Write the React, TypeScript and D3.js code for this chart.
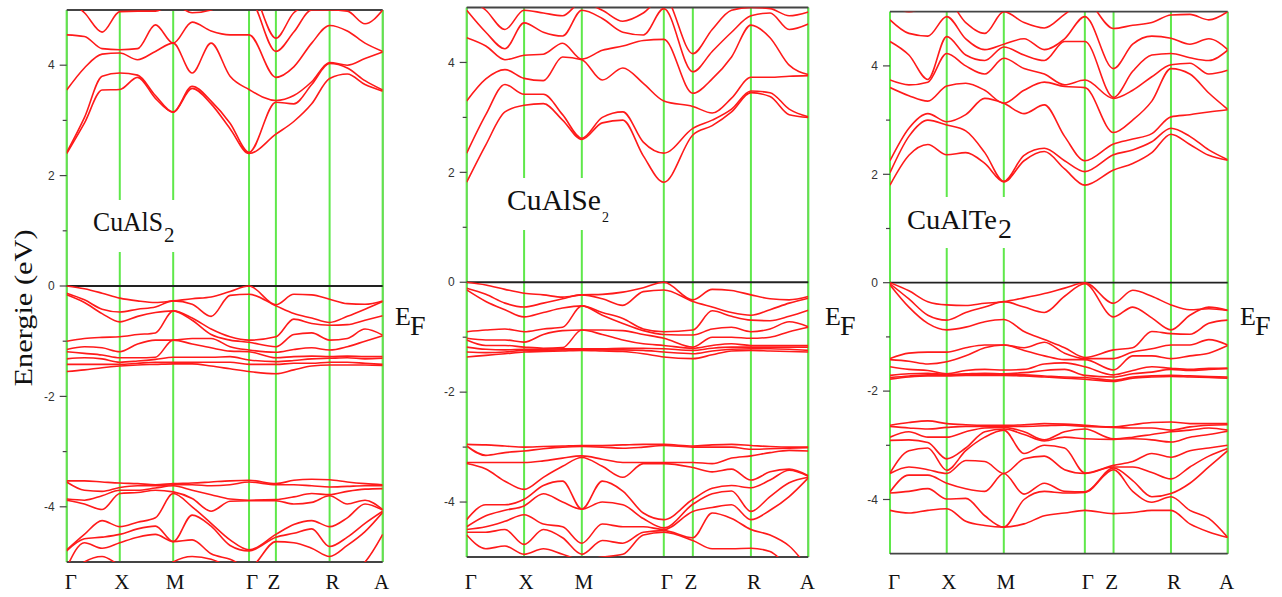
import * as d3 from "d3";
import { useEffect, useRef } from "react";

// high-symmetry path
const kLabels = ["Γ", "X", "M", "Γ", "Z", "R", "A"];
const kTicks = [0, 0.168, 0.337, 0.577, 0.662, 0.832, 1];
const kSteps = [3, 3, 4, 1, 3, 3]; // samples per segment
const majorTicks = [-4, -2, 0, 2, 4];
const minorTicks = [-3, -1, 1, 3];

// CuAlS2 bands (eV), one row per band, read at the k grid points
const s2Cond = [
  [2.40, 2.95, 3.55, 3.56, 3.78, 3.40, 3.15, 3.58, 3.30, 2.85, 2.40, 2.75, 2.98, 3.30, 3.76, 3.84, 3.65, 3.53],
  [2.42, 3.05, 3.80, 3.86, 3.82, 3.45, 3.15, 3.62, 3.35, 2.95, 2.42, 3.33, 3.30, 3.65, 4.03, 3.95, 3.72, 3.55],
  [3.55, 3.95, 4.20, 4.22, 4.10, 4.25, 4.40, 3.86, 4.40, 3.80, 3.56, 3.36, 3.45, 3.70, 4.05, 4.00, 4.12, 4.24],
  [4.55, 4.52, 4.30, 4.28, 4.30, 4.73, 4.40, 4.78, 4.62, 4.55, 4.55, 3.78, 3.97, 4.40, 4.72, 4.62, 4.40, 4.25],
  [5.20, 4.95, 4.60, 4.97, 4.98, 4.98, 5.10, 4.95, 5.00, 5.20, 5.20, 4.25, 4.60, 5.00, 5.00, 4.98, 4.75, 5.00],
  [5.40, 5.30, 5.10, 5.20, 5.10, 5.10, 5.20, 5.10, 5.20, 5.40, 5.40, 4.49, 4.95, 5.10, 5.20, 5.20, 5.10, 5.20],
];
const s2Val = [
  [0, -0.05, -0.13, -0.22, -0.27, -0.30, -0.27, -0.23, -0.20, -0.10, 0, -0.34, -0.15, -0.16, -0.24, -0.32, -0.33, -0.27],
  [-0.13, -0.25, -0.42, -0.47, -0.42, -0.38, -0.27, -0.33, -0.55, -0.17, -0.15, -0.36, -0.50, -0.58, -0.66, -0.55, -0.42, -0.28],
  [-0.16, -0.30, -0.50, -0.65, -0.55, -0.48, -0.45, -0.58, -0.78, -0.92, -0.98, -0.92, -0.60, -0.68, -0.71, -0.70, -0.62, -0.54],
  [-1.00, -0.95, -0.93, -0.92, -0.88, -0.85, -0.45, -0.62, -0.88, -0.98, -1.02, -1.10, -0.88, -0.85, -0.98, -0.95, -0.78, -0.89],
  [-1.15, -1.10, -1.12, -1.19, -1.05, -0.98, -0.98, -0.95, -0.95, -1.10, -1.16, -1.20, -1.15, -1.12, -1.16, -1.10, -1.00, -0.90],
  [-1.19, -1.22, -1.25, -1.30, -1.30, -1.29, -0.98, -1.05, -1.12, -1.18, -1.19, -1.30, -1.28, -1.27, -1.28, -1.27, -1.28, -1.28],
  [-1.32, -1.30, -1.32, -1.38, -1.36, -1.33, -1.29, -1.29, -1.29, -1.28, -1.34, -1.37, -1.35, -1.32, -1.31, -1.30, -1.32, -1.31],
  [-1.42, -1.42, -1.42, -1.42, -1.40, -1.38, -1.38, -1.38, -1.38, -1.38, -1.42, -1.42, -1.40, -1.40, -1.38, -1.38, -1.40, -1.42],
  [-1.55, -1.52, -1.48, -1.45, -1.43, -1.42, -1.41, -1.41, -1.45, -1.50, -1.55, -1.59, -1.52, -1.45, -1.43, -1.43, -1.43, -1.44],
];
const s2Low = [
  [-3.53, -3.53, -3.55, -3.57, -3.58, -3.60, -3.58, -3.57, -3.55, -3.53, -3.52, -3.58, -3.52, -3.50, -3.51, -3.55, -3.58, -3.60],
  [-3.55, -3.70, -3.72, -3.65, -3.62, -3.62, -3.60, -3.60, -3.62, -3.60, -3.55, -3.60, -3.60, -3.62, -3.64, -3.63, -3.62, -3.62],
  [-3.86, -3.88, -3.80, -3.70, -3.70, -3.66, -3.62, -3.70, -3.78, -3.86, -3.88, -3.87, -3.82, -3.76, -3.78, -3.72, -3.68, -3.67],
  [-3.88, -3.95, -4.05, -3.76, -3.74, -3.70, -3.73, -3.85, -4.08, -3.90, -3.89, -3.89, -3.95, -3.92, -3.80, -3.95, -3.88, -4.05],
  [-4.78, -4.50, -4.25, -4.36, -4.28, -4.20, -3.76, -4.00, -4.30, -4.60, -4.78, -4.50, -4.32, -4.25, -4.36, -4.20, -3.95, -4.06],
  [-4.80, -4.58, -4.55, -4.50, -4.40, -4.35, -4.63, -4.15, -4.35, -4.70, -4.80, -4.55, -4.48, -4.40, -4.72, -4.55, -4.30, -4.08],
  [-5.10, -4.65, -4.75, -4.65, -4.55, -4.50, -4.63, -4.60, -4.85, -4.95, -5.10, -4.63, -4.65, -4.75, -4.90, -4.70, -4.45, -4.10],
  [-5.30, -5.00, -4.90, -5.05, -5.10, -5.30, -5.00, -4.90, -4.95, -5.10, -5.30, -5.05, -5.20, -5.30, -5.40, -5.20, -5.00, -4.50],
];

// CuAlSe2 bands
const se2Cond = [
  [1.82, 2.50, 3.10, 3.22, 3.25, 2.95, 2.60, 2.90, 2.95, 2.30, 1.82, 2.68, 2.85, 3.10, 3.45, 3.38, 3.05, 3.00],
  [2.35, 3.05, 3.60, 3.42, 3.42, 3.05, 2.62, 3.00, 3.10, 2.55, 2.35, 2.80, 2.95, 3.15, 3.48, 3.45, 3.15, 3.01],
  [3.30, 3.70, 3.87, 3.71, 3.67, 4.10, 4.05, 3.68, 3.90, 3.62, 3.30, 3.20, 3.08, 3.35, 3.73, 3.73, 3.75, 3.76],
  [4.45, 4.30, 4.05, 4.13, 4.15, 4.35, 4.06, 4.22, 4.30, 4.40, 4.42, 3.44, 3.70, 4.10, 4.68, 4.45, 3.95, 3.78],
  [4.95, 4.55, 4.25, 4.72, 4.55, 4.48, 4.95, 4.80, 4.55, 4.50, 4.98, 3.83, 4.20, 4.55, 4.85, 4.90, 4.60, 4.70],
  [5.20, 4.95, 4.60, 4.95, 4.90, 4.85, 5.10, 4.95, 4.75, 4.90, 5.20, 4.16, 4.60, 4.95, 5.00, 4.98, 4.85, 4.92],
];
const se2Val = [
  [0, -0.05, -0.13, -0.20, -0.23, -0.27, -0.23, -0.22, -0.18, -0.10, 0, -0.32, -0.13, -0.15, -0.23, -0.30, -0.32, -0.26],
  [-0.11, -0.22, -0.38, -0.45, -0.38, -0.30, -0.23, -0.30, -0.42, -0.17, -0.14, -0.35, -0.45, -0.55, -0.60, -0.50, -0.38, -0.29],
  [-0.14, -0.35, -0.50, -0.63, -0.55, -0.47, -0.43, -0.55, -0.66, -0.85, -0.90, -0.87, -0.52, -0.62, -0.69, -0.70, -0.62, -0.51],
  [-0.90, -0.87, -0.85, -0.90, -0.85, -0.82, -0.43, -0.60, -0.75, -0.88, -0.95, -0.96, -0.85, -0.82, -0.90, -0.85, -0.72, -0.81],
  [-1.02, -1.05, -1.05, -1.09, -0.95, -0.88, -0.87, -0.87, -0.88, -0.95, -1.02, -1.18, -1.00, -1.00, -1.02, -1.00, -0.90, -0.82],
  [-1.05, -1.15, -1.15, -1.18, -1.20, -1.19, -0.87, -0.95, -1.05, -1.12, -1.15, -1.20, -1.15, -1.12, -1.15, -1.15, -1.15, -1.15],
  [-1.18, -1.22, -1.23, -1.22, -1.22, -1.21, -1.21, -1.21, -1.20, -1.20, -1.21, -1.24, -1.20, -1.18, -1.18, -1.18, -1.18, -1.18],
  [-1.27, -1.28, -1.27, -1.24, -1.24, -1.23, -1.23, -1.23, -1.23, -1.24, -1.27, -1.30, -1.25, -1.22, -1.21, -1.21, -1.22, -1.24],
  [-1.36, -1.33, -1.30, -1.27, -1.26, -1.25, -1.24, -1.25, -1.26, -1.30, -1.36, -1.39, -1.32, -1.25, -1.24, -1.25, -1.26, -1.27],
];
const se2Low = [
  [-2.95, -2.96, -2.98, -3.00, -2.99, -2.98, -2.97, -2.97, -2.96, -2.95, -2.95, -2.98, -2.96, -2.95, -2.97, -2.99, -3.00, -3.00],
  [-2.98, -3.15, -3.10, -3.07, -3.03, -3.00, -2.99, -3.00, -3.02, -3.00, -2.97, -3.00, -3.00, -3.00, -3.04, -3.03, -3.02, -3.01],
  [-3.28, -3.28, -3.28, -3.28, -3.25, -3.20, -3.16, -3.22, -3.28, -3.28, -3.28, -3.28, -3.30, -3.20, -3.16, -3.10, -3.06, -3.07],
  [-3.30, -3.40, -3.62, -3.77, -3.55, -3.35, -3.19, -3.35, -3.55, -3.30, -3.30, -3.37, -3.45, -3.40, -3.60, -3.45, -3.40, -3.52],
  [-4.32, -4.05, -4.05, -3.95, -3.70, -3.62, -4.13, -3.62, -3.80, -4.20, -4.32, -3.95, -3.75, -3.70, -3.74, -3.60, -3.42, -3.53],
  [-4.45, -4.25, -4.15, -4.07, -3.85, -4.00, -4.13, -4.00, -4.05, -4.30, -4.47, -4.04, -3.85, -3.80, -4.17, -3.90, -3.65, -3.55],
  [-4.50, -4.45, -4.35, -4.23, -4.40, -4.45, -4.75, -4.40, -4.45, -4.45, -4.50, -4.17, -4.10, -4.05, -4.32, -4.15, -3.90, -3.56],
  [-4.55, -4.55, -4.50, -4.77, -4.50, -4.65, -4.95, -4.70, -4.75, -4.55, -4.52, -4.65, -4.20, -4.30, -4.50, -4.60, -4.80, -5.20],
  [-4.60, -4.85, -4.80, -4.95, -4.85, -4.95, -5.05, -5.00, -4.95, -4.60, -4.55, -4.70, -4.85, -4.85, -4.84, -4.90, -5.20, -5.50],
];

// CuAlTe2 bands
const te2Cond = [
  [1.80, 2.35, 2.55, 2.36, 2.40, 2.20, 1.86, 2.25, 2.42, 2.10, 1.80, 2.08, 2.20, 2.40, 2.74, 2.55, 2.35, 2.26],
  [2.03, 2.70, 3.00, 2.91, 2.80, 2.40, 1.87, 2.35, 2.48, 2.25, 2.05, 2.36, 2.45, 2.60, 2.85, 2.70, 2.45, 2.27],
  [2.25, 2.85, 3.12, 2.97, 3.10, 3.40, 3.31, 3.12, 3.28, 2.70, 2.25, 2.56, 2.65, 2.75, 3.06, 3.10, 3.15, 3.19],
  [3.60, 3.45, 3.35, 3.63, 3.68, 3.55, 3.31, 3.55, 3.70, 3.62, 3.60, 2.77, 3.00, 3.35, 3.95, 3.85, 3.50, 3.20],
  [3.74, 3.65, 3.70, 4.23, 4.00, 3.85, 4.14, 3.95, 3.85, 3.65, 3.74, 3.40, 3.55, 3.80, 4.02, 4.05, 3.85, 3.92],
  [4.45, 4.20, 3.75, 4.54, 4.20, 4.10, 4.35, 4.20, 4.10, 4.45, 4.45, 3.42, 3.90, 4.20, 4.23, 4.15, 4.10, 4.29],
  [4.85, 4.60, 4.55, 4.91, 4.50, 4.30, 4.40, 4.50, 4.30, 4.50, 4.91, 3.95, 4.40, 4.55, 4.51, 4.40, 4.50, 4.30],
  [5.20, 5.00, 5.10, 5.20, 4.80, 4.60, 5.00, 4.80, 4.70, 4.95, 5.20, 4.69, 4.75, 4.80, 4.94, 4.95, 4.85, 5.00],
];
const te2Val = [
  [0, -0.15, -0.35, -0.41, -0.42, -0.38, -0.35, -0.28, -0.20, -0.10, 0, -0.38, -0.14, -0.25, -0.41, -0.50, -0.48, -0.51],
  [-0.02, -0.30, -0.60, -0.69, -0.55, -0.45, -0.35, -0.45, -0.55, -0.25, -0.02, -0.63, -0.45, -0.65, -0.87, -0.60, -0.45, -0.51],
  [-0.04, -0.45, -0.75, -0.87, -0.82, -0.72, -0.68, -0.90, -1.05, -1.20, -1.38, -1.24, -1.20, -0.90, -0.94, -0.95, -0.75, -0.69],
  [-1.40, -1.30, -1.28, -1.28, -1.20, -1.15, -1.15, -1.20, -1.10, -1.30, -1.40, -1.40, -1.28, -1.22, -1.15, -1.15, -1.05, -1.15],
  [-1.42, -1.45, -1.50, -1.46, -1.35, -1.20, -1.15, -1.25, -1.35, -1.42, -1.42, -1.61, -1.35, -1.35, -1.40, -1.35, -1.30, -1.16],
  [-1.55, -1.60, -1.62, -1.68, -1.62, -1.60, -1.61, -1.60, -1.50, -1.48, -1.55, -1.70, -1.62, -1.55, -1.58, -1.60, -1.58, -1.58],
  [-1.71, -1.68, -1.67, -1.69, -1.68, -1.67, -1.68, -1.66, -1.62, -1.60, -1.71, -1.74, -1.68, -1.65, -1.60, -1.62, -1.60, -1.58],
  [-1.75, -1.72, -1.70, -1.70, -1.70, -1.70, -1.70, -1.70, -1.72, -1.74, -1.75, -1.80, -1.74, -1.72, -1.71, -1.72, -1.73, -1.74],
  [-1.78, -1.74, -1.72, -1.72, -1.71, -1.71, -1.71, -1.72, -1.74, -1.76, -1.78, -1.82, -1.76, -1.74, -1.73, -1.74, -1.75, -1.76],
];
const te2Low = [
  [-2.63, -2.58, -2.55, -2.60, -2.62, -2.63, -2.63, -2.62, -2.60, -2.61, -2.63, -2.66, -2.62, -2.58, -2.57, -2.60, -2.60, -2.60],
  [-2.65, -2.68, -2.70, -2.67, -2.65, -2.65, -2.65, -2.65, -2.64, -2.63, -2.65, -2.67, -2.68, -2.68, -2.72, -2.66, -2.63, -2.62],
  [-2.85, -2.75, -2.85, -2.85, -2.75, -2.68, -2.67, -2.75, -2.90, -2.75, -2.70, -2.88, -2.85, -2.80, -2.75, -2.72, -2.68, -2.72],
  [-2.91, -2.90, -2.95, -3.25, -3.05, -2.75, -2.70, -2.80, -2.92, -2.85, -2.88, -2.89, -2.88, -2.90, -2.94, -2.85, -2.80, -2.74],
  [-3.51, -3.10, -3.05, -3.46, -3.10, -2.85, -2.72, -3.15, -3.00, -3.05, -3.51, -3.37, -3.30, -3.15, -3.22, -3.10, -3.05, -3.00],
  [-3.52, -3.40, -3.45, -3.52, -3.28, -3.30, -3.52, -3.25, -3.20, -3.45, -3.52, -3.40, -3.40, -3.50, -3.62, -3.40, -3.20, -3.06],
  [-3.86, -3.55, -3.55, -3.70, -3.80, -3.85, -3.52, -3.90, -3.70, -3.85, -3.86, -3.42, -3.65, -3.95, -3.89, -3.70, -3.40, -3.10],
  [-3.88, -3.85, -3.80, -3.99, -3.98, -4.30, -4.51, -4.00, -3.85, -3.88, -3.87, -3.45, -3.85, -4.05, -3.95, -4.20, -4.35, -4.70],
  [-4.20, -4.25, -4.20, -4.17, -4.40, -4.48, -4.51, -4.45, -4.30, -4.25, -4.20, -4.26, -4.24, -4.20, -4.20, -4.45, -4.60, -4.70],
];

// k grid: evenly split segments between high-symmetry points
const kGrid: number[] = [];
kSteps.forEach((n, i) => {
  for (let j = 0; j < n; j++) kGrid.push(kTicks[i] + ((kTicks[i + 1] - kTicks[i]) * j) / n);
});
kGrid.push(1);

const panels = [
  {
    formula: "CuAlS", sub: "2", bands: [...s2Cond, ...s2Val, ...s2Low],
    left: 66.7, right: 382.7, top: 10, bottom: 562,
    title: { x: 93, y: 231, size: 27, len: 70, subSize: 21, subY: 242 },
    gap: { x0: 80, x1: 232, y0: 200, y1: 252 },
    ef: { x: 395, y: 325 },
  },
  {
    formula: "CuAlSe", sub: "2", bands: [...se2Cond, ...se2Val, ...se2Low],
    left: 466.7, right: 808.3, top: 7.5, bottom: 557,
    title: { x: 507, y: 210, size: 29, len: 94, subSize: 14, subY: 222 },
    gap: { x0: 480, x1: 645, y0: 178, y1: 230 },
    ef: { x: 825, y: 325 },
  },
  {
    formula: "CuAlTe", sub: "2", bands: [...te2Cond, ...te2Val, ...te2Low],
    left: 890, right: 1227.7, top: 11.7, bottom: 553.7,
    title: { x: 907, y: 229, size: 28, len: 90, subSize: 28, subY: 238 },
    gap: { x0: 900, x1: 1040, y0: 197, y1: 248 },
    ef: { x: 1240, y: 325 },
  },
];

const labelNudge = [4, 2, 2, 3, -2, 3, -1];
const green = "#5fe84a";
const red = "#ff1a1a";
const serif = "'Liberation Serif', 'Times New Roman', serif";
const sans = "'Liberation Sans', Arial, sans-serif";

export default function App() {
  const ref = useRef<SVGSVGElement | null>(null);

  useEffect(() => {
    if (!ref.current) return;
    const width = 1282;
    const height = 597;
    const svg = d3.select(ref.current);
    svg.selectAll("*").remove();
    svg.append("rect").attr("width", width).attr("height", height).attr("fill", "#fff");

    panels.forEach((p, pi) => {
      const x = d3.scaleLinear().domain([0, 1]).range([p.left, p.right]);
      const y = d3.scaleLinear().domain([-5, 5]).range([p.bottom, p.top]);
      const g = svg.append("g");

      const clipId = `panel-clip-${pi}`;
      g.append("clipPath").attr("id", clipId)
        .append("rect")
        .attr("x", p.left).attr("y", p.top)
        .attr("width", p.right - p.left).attr("height", p.bottom - p.top);

      // side frame under the green lines
      g.selectAll("line.side").data([p.left, p.right]).join("line")
        .attr("x1", (d) => d).attr("x2", (d) => d)
        .attr("y1", p.top).attr("y2", p.bottom)
        .attr("stroke", "#555").attr("stroke-width", 1.5);

      // high-symmetry lines
      g.selectAll("line.k").data(kTicks).join("line")
        .attr("x1", (d) => x(d)).attr("x2", (d) => x(d))
        .attr("y1", p.top).attr("y2", p.bottom)
        .attr("stroke", green).attr("stroke-width", 2);

      // white box behind the compound label
      g.append("rect")
        .attr("x", p.gap.x0).attr("y", p.gap.y0)
        .attr("width", p.gap.x1 - p.gap.x0).attr("height", p.gap.y1 - p.gap.y0)
        .attr("fill", "#fff");

      // top / bottom frame and Fermi level
      g.selectAll("line.hz").data([5, -5]).join("line")
        .attr("x1", p.left).attr("x2", p.right)
        .attr("y1", (d) => y(d)).attr("y2", (d) => y(d))
        .attr("stroke", "#444").attr("stroke-width", 1.8);
      g.append("line")
        .attr("x1", p.left).attr("x2", p.right)
        .attr("y1", y(0)).attr("y2", y(0))
        .attr("stroke", "#222").attr("stroke-width", 1.8);

      // bands
      const line = d3.line<number>()
        .x((_, i) => x(kGrid[i]))
        .y((d) => y(d))
        .curve(d3.curveMonotoneX);
      g.append("g").attr("clip-path", `url(#${clipId})`)
        .selectAll("path").data(p.bands).join("path")
        .attr("d", (d) => line(d))
        .attr("fill", "none")
        .attr("stroke", red)
        .attr("stroke-width", 1.6);

      // y ticks
      g.selectAll("line.maj").data(majorTicks).join("line")
        .attr("x1", p.left - 7).attr("x2", p.left)
        .attr("y1", (d) => y(d)).attr("y2", (d) => y(d))
        .attr("stroke", "#444").attr("stroke-width", 1.2);
      g.selectAll("line.min").data(minorTicks).join("line")
        .attr("x1", p.left - 4).attr("x2", p.left)
        .attr("y1", (d) => y(d)).attr("y2", (d) => y(d))
        .attr("stroke", "#444").attr("stroke-width", 1.2);
      g.selectAll("text.yt").data(majorTicks).join("text")
        .attr("x", p.left - 12).attr("y", (d) => y(d))
        .attr("dy", "0.35em")
        .attr("text-anchor", "end")
        .attr("font-family", sans).attr("font-size", 12)
        .attr("fill", "#333")
        .text((d) => (d < 0 ? `-${Math.abs(d)}` : `${d}`));

      // k labels
      g.selectAll("text.kl").data(kTicks).join("text")
        .attr("x", (d, i) => x(d) + labelNudge[i]).attr("y", 589)
        .attr("text-anchor", "middle")
        .attr("font-family", serif).attr("font-size", 21)
        .attr("fill", "#111")
        .text((_, i) => kLabels[i]);

      // compound label
      g.append("text")
        .attr("x", p.title.x).attr("y", p.title.y)
        .attr("font-family", serif).attr("font-size", p.title.size)
        .attr("textLength", p.title.len).attr("lengthAdjust", "spacingAndGlyphs")
        .attr("fill", "#111")
        .text(p.formula);
      g.append("text")
        .attr("x", p.title.x + p.title.len + 1).attr("y", p.title.subY)
        .attr("font-family", serif).attr("font-size", p.title.subSize)
        .attr("fill", "#111")
        .text(p.sub);

      // Fermi level label
      g.append("text")
        .attr("x", p.ef.x).attr("y", p.ef.y)
        .attr("font-family", serif).attr("font-size", 26)
        .attr("fill", "#111")
        .text("E");
      g.append("text")
        .attr("x", p.ef.x + 15).attr("y", p.ef.y + 10)
        .attr("font-family", serif).attr("font-size", 28)
        .attr("fill", "#111")
        .text("F");
    });

    svg.append("text")
      .attr("transform", "translate(32,308) rotate(-90)")
      .attr("text-anchor", "middle")
      .attr("font-family", serif).attr("font-size", 26)
      .attr("textLength", 157).attr("lengthAdjust", "spacingAndGlyphs")
      .attr("fill", "#111")
      .text("Energie (eV)");
  }, []);

  return (
    <svg
      ref={ref}
      width={1282}
      height={597}
      style={{ position: "absolute", left: 0, top: 0, display: "block" }}
    ></svg>
  );
}
